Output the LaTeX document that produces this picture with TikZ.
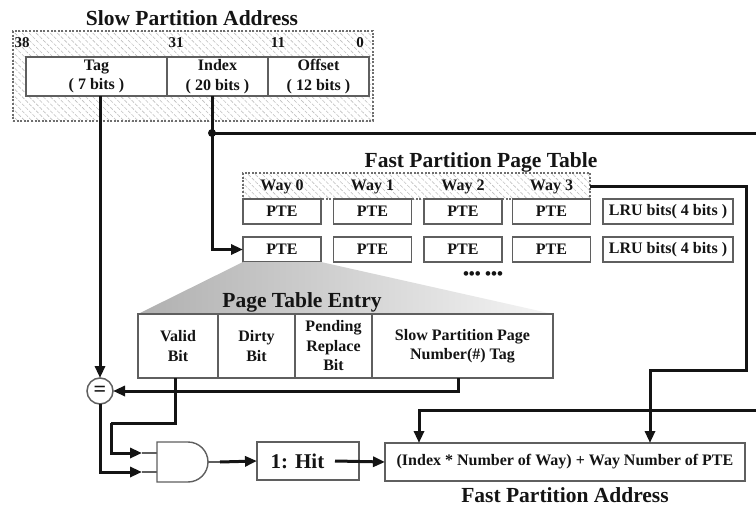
\documentclass[tikz,border=0pt]{standalone}
\usepackage{fontspec}
\setmainfont{Liberation Serif}
\usetikzlibrary{arrows.meta,patterns.meta,calc}
\definecolor{boxgray}{RGB}{95,95,95}
\definecolor{hatchgray}{RGB}{190,190,190}
\definecolor{dotgray}{RGB}{110,110,110}
\definecolor{inkc}{RGB}{20,20,20}
\tikzset{
  every node/.style={inner sep=0pt, outer sep=0pt, text=inkc},
  titletext/.style={font=\bfseries\fontsize{21.5}{24}\selectfont},
  smalltext/.style={font=\bfseries\fontsize{16}{19.5}\selectfont, align=center},
  numtext/.style={font=\bfseries\fontsize{15}{15}\selectfont},
  field/.style={draw=boxgray, line width=1.6pt, fill=white, smalltext},
  hatchbox/.style={draw=dotgray, line width=1.3pt, dash pattern=on 2pt off 1.6pt,
    pattern={Lines[angle=-45,distance=5pt,line width=0.6pt]}, pattern color=hatchgray},
  wire/.style={draw=inkc, line width=3pt},
  conn/.style={wire, -{Triangle[length=12pt,width=10pt]}},
  thinwire/.style={draw=boxgray, line width=1.4pt},
}
\begin{document}
\begin{tikzpicture}[x=1pt,y=-1pt]
\useasboundingbox (0,0) rectangle (756,506);

% ---------- Slow partition address ----------
\node[titletext] (sat) at (192,18) {Slow Partition Address};
\node[hatchbox, minimum width=360, minimum height=90] (sa) at (193,76) {};
\node[numtext] (n38) at (22,43) {38};
\node[numtext] (n31) at (176,43) {31};
\node[numtext] (n11) at (278,43) {11};
\node[numtext] (n0) at (360,43) {0};
\node[field, minimum width=141, minimum height=39] (tag) at (96.5,76.5) {Tag\\( 7 bits )};
\node[field, minimum width=101, minimum height=39] (idx) at (217.5,76.5) {Index\\( 20 bits )};
\node[field, minimum width=101, minimum height=39] (off) at (318.5,76.5) {Offset\\( 12 bits )};

% ---------- Fast partition page table ----------
\node[titletext] (fpt) at (481,162) {Fast Partition Page Table};
\node[hatchbox, minimum width=347, minimum height=26] (way) at (416.5,186) {};
\foreach \i/\xx in {0/282,1/372.5,2/463,3/551.5}{
  \node[smalltext] (w\i) at (\xx,187) {Way \i};
  \node[field, minimum width=78, minimum height=25] (pa\i) at (\xx,211.5) {PTE};
  \node[field, minimum width=78, minimum height=25] (pb\i) at (\xx,249.5) {PTE};
}
\node[field, minimum width=130, minimum height=25] (lrua) at (668,211.5) {LRU bits( 4 bits )};
\node[field, minimum width=130, minimum height=25] (lrub) at (668,249.5) {LRU bits( 4 bits )};
\node[font=\bfseries\fontsize{17}{17}\selectfont] (dots) at (483,276) {••• •••};

% ---------- Page table entry ----------
\coordinate (ptl) at (138,314);
\coordinate (ptr) at (553,314);
\shade[left color=gray!62, right color=gray!8] (pb0.south west) -- (pb0.south east) -- (ptr) -- (ptl) -- cycle;
\node[titletext] (pet) at (302,302) {Page Table Entry};
\node[field, minimum width=80, minimum height=64] (valid) at (178,346) {Valid\\Bit};
\node[field, minimum width=77, minimum height=64] (dirty) at (256.5,346) {Dirty\\Bit};
\node[field, minimum width=77, minimum height=64] (pend) at (333.5,346) {Pending\\Replace\\Bit};
\node[field, minimum width=181, minimum height=64] (spn) at (462.5,346) {Slow Partition Page\\Number(\#) Tag};

% ---------- comparator, gate, outputs ----------
\node[circle, draw=boxgray, line width=1.5pt, minimum size=26, fill=white,
  font=\bfseries\fontsize{22}{22}\selectfont] (eq) at (100,391) {=};
\draw[thinwire, fill=white] (157,442) -- (188,442) arc[start angle=90, end angle=-90, radius=20pt] -- (157,482) -- cycle;
\coordinate (gin1) at (157,453);
\coordinate (gin2) at (157,472);
\coordinate (tip1) at (142,453);
\coordinate (tip2) at (142,472);
\coordinate (gout) at (208,462);
\coordinate (gmid) at (220,462);
\node[draw=boxgray, line width=1.6pt, minimum width=102, minimum height=38,
  font=\bfseries\fontsize{21}{21}\selectfont] (hit) at (308,461) {1: Hit\kern21pt\relax};
\node[draw=boxgray, line width=1.6pt, minimum width=360, minimum height=38,
  font=\bfseries\fontsize{16}{16}\selectfont] (addr) at (565,462) {(Index * Number of Way) + Way Number of PTE};
\node[titletext] (fpa) at (565,495) {Fast Partition Address};

% ---------- connectors ----------
\coordinate (idxdot) at (212,133);
\coordinate (redgeA) at (756,133);
\coordinate (redgeB) at (756,410);
\coordinate (wturn) at (746,370);
\coordinate (vbend) at (111,423);
\draw[conn] (tag.south -| eq.north) -- (eq.north);
\draw[conn] (idxdot |- idx.south) |- (pb0.west);
\draw[wire] (idxdot) -- (redgeA);
\fill[inkc] (idxdot) circle[radius=4pt];
\draw[conn] (way.east) -| (wturn) -| ($(addr.north west)+(265,0)$);
\draw[conn] (redgeB) -| ($(addr.north west)+(34,0)$);
\draw[conn] ($(spn.south)+(-4.5,0)$) |- (eq.east);
\draw[wire] ($(valid.south)+(-3,0)$) |- (vbend);
\draw[conn] (vbend) |- (tip1);
\draw[conn] (eq.south) |- (tip2);
\draw[thinwire] (tip1) -- (gin1);
\draw[thinwire] (tip2) -- (gin2);
\draw[thinwire] (gout) -- (gmid);
\draw[conn] (gmid) -- (hit.west);
\draw[conn] ($(hit.east)+(-24,0)$) -- (addr.west);
\end{tikzpicture}
\end{document}
